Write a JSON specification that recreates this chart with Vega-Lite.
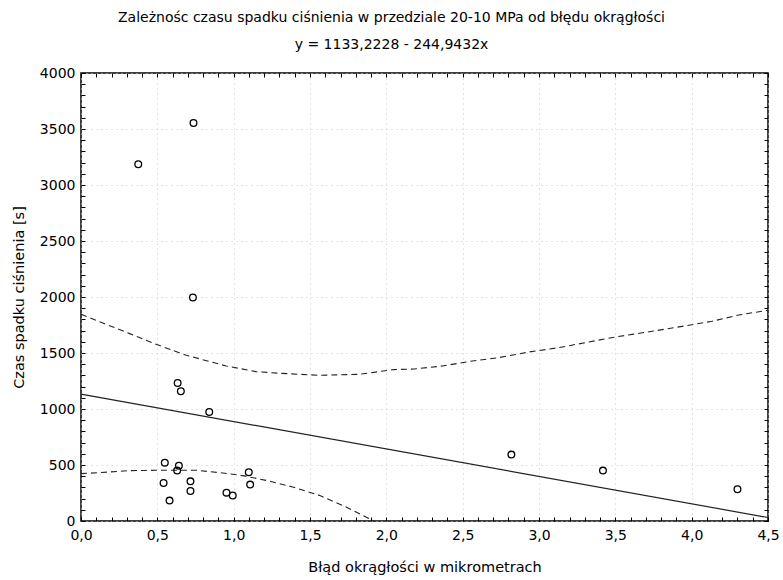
{
  "$schema": "https://vega.github.io/schema/vega-lite/v6.json",
  "width": 687,
  "height": 448,
  "autosize": {"type": "none"},
  "padding": {"left": 81, "top": 73, "right": 15, "bottom": 59},
  "background": "white",
  "config": {
    "font": "DejaVu Sans",
    "view": {"stroke": "black", "strokeWidth": 1.5},
    "axis": {"labelFont": "DejaVu Sans", "titleFont": "DejaVu Sans", "labelColor": "black", "titleColor": "black", "titleFontWeight": "normal", "labelFontSize": 14, "titleFontSize": 14.5}
  },
  "title": {
    "text": "Zależnośc czasu spadku ciśnienia w przedziale 20-10 MPa od błędu okrągłości",
    "subtitle": "y = 1133,2228 - 244,9432x",
    "fontSize": 14,
    "subtitleFontSize": 14,
    "fontWeight": "normal",
    "color": "black",
    "subtitleColor": "black",
    "subtitleFont": "DejaVu Sans",
    "font": "DejaVu Sans",
    "frame": "group",
    "anchor": "middle",
    "dx": -33,
    "subtitlePadding": 13,
    "offset": 14
  },
  "datasets": {
    "points": [
      {"x": 0.375, "y": 3185},
      {"x": 0.737, "y": 3554},
      {"x": 0.733, "y": 1995},
      {"x": 0.633, "y": 1232},
      {"x": 0.654, "y": 1158},
      {"x": 0.840, "y": 973},
      {"x": 0.549, "y": 521},
      {"x": 0.641, "y": 494},
      {"x": 0.630, "y": 450},
      {"x": 0.541, "y": 339},
      {"x": 0.717, "y": 354},
      {"x": 0.717, "y": 268},
      {"x": 0.580, "y": 182},
      {"x": 0.953, "y": 253},
      {"x": 0.994, "y": 227},
      {"x": 1.099, "y": 435},
      {"x": 1.108, "y": 325},
      {"x": 2.819, "y": 593},
      {"x": 3.419, "y": 450},
      {"x": 4.300, "y": 283}
    ],
    "fit": [
      {"x": 0, "y": 1133.2228},
      {"x": 4.5, "y": 30.98}
    ],
    "upper": [
      {"x": 0, "y": 1845},
      {"x": 0.319, "y": 1673},
      {"x": 0.515, "y": 1566},
      {"x": 0.689, "y": 1480},
      {"x": 0.951, "y": 1384},
      {"x": 1.147, "y": 1334},
      {"x": 1.30, "y": 1319},
      {"x": 1.561, "y": 1301},
      {"x": 1.823, "y": 1310},
      {"x": 2.050, "y": 1352},
      {"x": 2.180, "y": 1357},
      {"x": 2.367, "y": 1384},
      {"x": 2.564, "y": 1429},
      {"x": 2.738, "y": 1459},
      {"x": 2.934, "y": 1509},
      {"x": 3.131, "y": 1548},
      {"x": 3.305, "y": 1593},
      {"x": 3.502, "y": 1643},
      {"x": 3.741, "y": 1694},
      {"x": 3.937, "y": 1738},
      {"x": 4.133, "y": 1783},
      {"x": 4.308, "y": 1839},
      {"x": 4.5, "y": 1882}
    ],
    "lower": [
      {"x": 0, "y": 423},
      {"x": 0.123, "y": 432},
      {"x": 0.319, "y": 450},
      {"x": 0.536, "y": 453},
      {"x": 0.755, "y": 453},
      {"x": 0.929, "y": 429},
      {"x": 1.06, "y": 405},
      {"x": 1.212, "y": 363},
      {"x": 1.387, "y": 304},
      {"x": 1.561, "y": 229},
      {"x": 1.736, "y": 125},
      {"x": 1.888, "y": 21},
      {"x": 1.92, "y": 0}
    ]
  },
  "resolve": {"axis": {"x": "independent", "y": "independent"}},
  "layer": [
    {
      "data": {"name": "upper"},
      "mark": {"type": "line", "color": "#222", "strokeWidth": 1.1, "strokeDash": [6, 4]},
      "encoding": {
        "x": {"field": "x", "type": "quantitative", "scale": {"domain": [0, 4.5], "nice": false, "zero": false},
          "axis": {"orient": "bottom", "values": [0, 0.5, 1, 1.5, 2, 2.5, 3, 3.5, 4, 4.5], "grid": true, "gridColor": "#c8c8c8", "gridDash": [1, 4], "gridWidth": 1, "labels": false, "ticks": false, "domain": false, "title": null}},
        "y": {"field": "y", "type": "quantitative", "scale": {"domain": [0, 4000], "nice": false},
          "axis": {"orient": "left", "values": [0, 500, 1000, 1500, 2000, 2500, 3000, 3500, 4000], "grid": true, "gridColor": "#c8c8c8", "gridDash": [1, 4], "gridWidth": 1, "labels": false, "ticks": false, "domain": false, "title": null}}
      }
    },
    {
      "data": {"name": "lower"},
      "mark": {"type": "line", "color": "#222", "strokeWidth": 1.1, "strokeDash": [6, 4]},
      "encoding": {
        "x": {"field": "x", "type": "quantitative",
          "axis": {"orient": "top", "values": [0,0.1,0.2,0.3,0.4,0.5,0.6,0.7,0.8,0.9,1,1.1,1.2,1.3,1.4,1.5,1.6,1.7,1.8,1.9,2,2.1,2.2,2.3,2.4,2.5,2.6,2.7,2.8,2.9,3,3.1,3.2,3.3,3.4,3.5,3.6,3.7,3.8,3.9,4,4.1,4.2,4.3,4.4,4.5], "grid": false, "labels": false, "ticks": true, "tickSize": -4, "tickColor": "black", "domain": false, "title": null}},
        "y": {"field": "y", "type": "quantitative",
          "axis": {"orient": "right", "values": [0,100,200,300,400,500,600,700,800,900,1000,1100,1200,1300,1400,1500,1600,1700,1800,1900,2000,2100,2200,2300,2400,2500,2600,2700,2800,2900,3000,3100,3200,3300,3400,3500,3600,3700,3800,3900,4000], "grid": false, "labels": false, "ticks": true, "tickSize": -4, "tickColor": "black", "domain": false, "title": null}}
      }
    },
    {
      "data": {"name": "fit"},
      "mark": {"type": "line", "color": "#222", "strokeWidth": 1.2},
      "encoding": {
        "x": {"field": "x", "type": "quantitative",
          "axis": {"orient": "bottom", "values": [0,0.1,0.2,0.3,0.4,0.5,0.6,0.7,0.8,0.9,1,1.1,1.2,1.3,1.4,1.5,1.6,1.7,1.8,1.9,2,2.1,2.2,2.3,2.4,2.5,2.6,2.7,2.8,2.9,3,3.1,3.2,3.3,3.4,3.5,3.6,3.7,3.8,3.9,4,4.1,4.2,4.3,4.4,4.5],
            "labelExpr": "abs(round(datum.value*2) - datum.value*2) < 0.001 ? replace(format(datum.value, '.1f'), '.', ',') : ''",
            "labelOverlap": false, "labelFlush": false, "labelPadding": 11, "grid": false, "tickSize": -4, "tickColor": "black", "domain": false,
            "title": "Błąd okrągłości w mikrometrach", "titlePadding": 18}},
        "y": {"field": "y", "type": "quantitative",
          "axis": {"orient": "left", "values": [0,100,200,300,400,500,600,700,800,900,1000,1100,1200,1300,1400,1500,1600,1700,1800,1900,2000,2100,2200,2300,2400,2500,2600,2700,2800,2900,3000,3100,3200,3300,3400,3500,3600,3700,3800,3900,4000],
            "labelExpr": "datum.value % 500 === 0 ? format(datum.value, 'd') : ''",
            "labelOverlap": false, "labelFlush": false, "labelPadding": 10, "grid": false, "tickSize": -4, "tickColor": "black", "domain": false,
            "title": "Czas spadku ciśnienia [s]", "titlePadding": 13}}
      }
    },
    {
      "data": {"name": "points"},
      "mark": {"type": "point", "shape": "circle", "filled": false, "stroke": "black", "strokeWidth": 1.3, "size": 45, "opacity": 1},
      "encoding": {
        "x": {"field": "x", "type": "quantitative", "axis": null},
        "y": {"field": "y", "type": "quantitative", "axis": null}
      }
    }
  ]
}
